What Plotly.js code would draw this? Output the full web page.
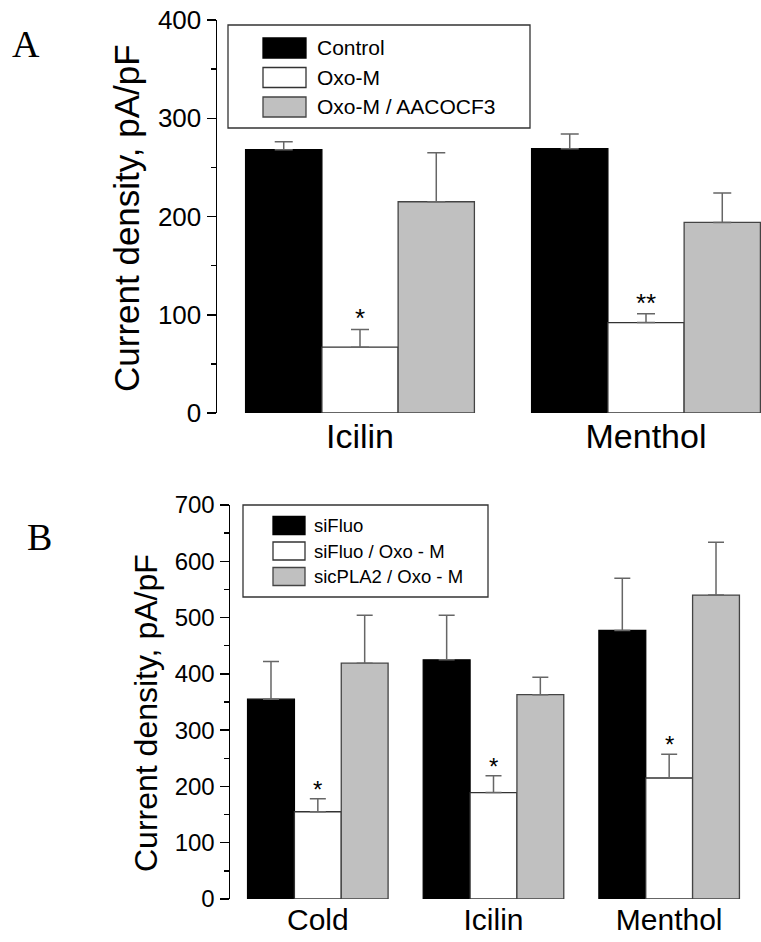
<!DOCTYPE html>
<html>
<head>
<meta charset="utf-8">
<script src="https://cdn.plot.ly/plotly-3.0.1.min.js"></script>
<style>html,body{margin:0;padding:0;background:#fff}#chart{width:761px;height:942px}</style>
</head>
<body>
<div id="chart"></div>
<script>
// ---------- Panel A data ----------
const categoriesA = ["Icilin", "Menthol"];
const seriesNamesA = ["Control", "Oxo-M", "Oxo-M / AACOCF3"];
const controlA = [268, 269];
const controlErrA = [8, 15];
const oxoA = [67, 92];
const oxoErrA = [18, 9];
const aacocf3A = [215, 194];
const aacocf3ErrA = [50, 30];
const sigA = ["*", "**"];
const yTicksA = [0, 100, 200, 300, 400];

// ---------- Panel B data ----------
const categoriesB = ["Cold", "Icilin", "Menthol"];
const seriesNamesB = ["siFluo", "siFluo / Oxo - M", "sicPLA2 / Oxo - M"];
const siFluoB = [355, 425, 477];
const siFluoErrB = [67, 79, 93];
const siFluoOxoB = [155, 189, 215];
const siFluoOxoErrB = [23, 30, 42];
const sicPLA2OxoB = [419, 363, 540];
const sicPLA2OxoErrB = [85, 31, 94];
const sigB = ["*", "*", "*"];
const yTicksB = [0, 100, 200, 300, 400, 500, 600, 700];

const yTitle = "Current density, pA/pF";

// ---------- styling ----------
const W = 761, H = 942;
const px = x => x / W;
const py = y => 1 - y / H;
const FONT = "Liberation Sans, Arial, Helvetica, sans-serif";
const fills = ["#000000", "#ffffff", "#c0c0c0"];
const outlines = ["#000000", "#333333", "#444444"];

function barTrace(name, cats, vals, errs, i, xa, ya, capw) {
  return {
    type: "bar", name: name, x: cats, y: vals, xaxis: xa, yaxis: ya,
    marker: {color: fills[i], line: {color: outlines[i], width: 1.3}},
    error_y: {type: "data", symmetric: false, array: errs, arrayminus: errs.map(() => 0),
              color: "#666666", thickness: 1.5, width: capw},
    showlegend: false, hoverinfo: "skip"
  };
}

const data = [
  barTrace(seriesNamesA[0], categoriesA, controlA, controlErrA, 0, "x", "y", 9),
  barTrace(seriesNamesA[1], categoriesA, oxoA, oxoErrA, 1, "x", "y", 9),
  barTrace(seriesNamesA[2], categoriesA, aacocf3A, aacocf3ErrA, 2, "x", "y", 9),
  barTrace(seriesNamesB[0], categoriesB, siFluoB, siFluoErrB, 0, "x2", "y2", 8),
  barTrace(seriesNamesB[1], categoriesB, siFluoOxoB, siFluoOxoErrB, 1, "x2", "y2", 8),
  barTrace(seriesNamesB[2], categoriesB, sicPLA2OxoB, sicPLA2OxoErrB, 2, "x2", "y2", 8)
];

function yAxis(domain, range, ticks, tickSize, anchor) {
  return {
    domain: domain, range: range, anchor: anchor,
    tickmode: "array", tickvals: ticks, ticktext: ticks.map(String),
    ticks: "outside", ticklen: 9, tickwidth: 1.5, tickcolor: "#000",
    showline: true, linewidth: 1.5, linecolor: "#000",
    showgrid: false, zeroline: false, fixedrange: true,
    tickfont: {family: FONT, size: tickSize, color: "#000"},
    minor: {dtick: 50, tick0: 0, ticks: "outside", ticklen: 5, tickwidth: 1.5, tickcolor: "#000", showgrid: false}
  };
}
function xAxis(domain, range, labelSize, anchor) {
  return {
    domain: domain, range: range, type: "category", anchor: anchor,
    showline: false, ticks: "", showgrid: false, zeroline: false, fixedrange: true,
    tickfont: {family: FONT, size: labelSize, color: "#000"}
  };
}

// legend drawn as box + swatches + labels
const shapes = [];
const annotations = [];
function legend(box, sw, rows, swH, textX, names, fontSize) {
  shapes.push({type: "rect", xref: "paper", yref: "paper",
    x0: px(box[0]), x1: px(box[1]), y0: py(box[3]), y1: py(box[2]),
    line: {color: "#333", width: 1.3}, fillcolor: "#fff", layer: "above"});
  names.forEach((n, i) => {
    shapes.push({type: "rect", xref: "paper", yref: "paper",
      x0: px(sw[0]), x1: px(sw[1]), y0: py(rows[i] + swH / 2), y1: py(rows[i] - swH / 2),
      line: {color: outlines[i], width: 1.3}, fillcolor: fills[i], layer: "above"});
    annotations.push({xref: "paper", yref: "paper", x: px(textX), y: py(rows[i]),
      xanchor: "left", yanchor: "middle", showarrow: false, text: n,
      font: {family: FONT, size: fontSize, color: "#000"}});
  });
}
legend([228, 530, 25, 128], [263, 306], [48, 77.5, 107], 20, 315, seriesNamesA, 21);
legend([243, 488, 505, 597], [273, 305], [525.5, 551, 576.5], 18, 312, seriesNamesB, 18.5);

// y-axis titles
annotations.push({xref: "paper", yref: "paper", x: px(127), y: py(218), text: yTitle, textangle: -90,
  showarrow: false, xanchor: "center", yanchor: "middle", font: {family: FONT, size: 35, color: "#000"}});
annotations.push({xref: "paper", yref: "paper", x: px(146), y: py(713), text: yTitle, textangle: -90,
  showarrow: false, xanchor: "center", yanchor: "middle", font: {family: FONT, size: 32, color: "#000"}});

// significance stars
categoriesA.forEach((c, i) => annotations.push({xref: "x", yref: "y", x: c, y: oxoA[i] + oxoErrA[i],
  text: sigA[i], showarrow: false, yanchor: "bottom", yshift: -6, font: {family: FONT, size: 26, color: "#000"}}));
categoriesB.forEach((c, i) => annotations.push({xref: "x2", yref: "y2", x: c, y: siFluoOxoB[i] + siFluoOxoErrB[i],
  text: sigB[i], showarrow: false, yanchor: "bottom", yshift: -6, font: {family: FONT, size: 24, color: "#000"}}));

// panel letters
annotations.push({xref: "paper", yref: "paper", x: px(26), y: py(44), text: "A", showarrow: false,
  xanchor: "center", yanchor: "middle", font: {family: "Liberation Serif, Times New Roman, serif", size: 38, color: "#000"}});
annotations.push({xref: "paper", yref: "paper", x: px(39), y: py(537), text: "B", showarrow: false,
  xanchor: "center", yanchor: "middle", font: {family: "Liberation Serif, Times New Roman, serif", size: 38, color: "#000"}});

const layout = {
  width: W, height: H,
  margin: {l: 0, r: 0, t: 0, b: 0},
  paper_bgcolor: "#fff", plot_bgcolor: "rgba(0,0,0,0)",
  barmode: "group", bargap: 0.2, bargroupgap: 0,
  showlegend: false,
  font: {family: FONT, color: "#000"},
  xaxis: xAxis([px(217), 1], [-0.5, -0.5 + (761 - 217) / 286], 34, "y"),
  yaxis: yAxis([py(413), py(20)], [0, 400], yTicksA, 26, "x"),
  xaxis2: xAxis([px(230), px(757)], [-0.5, 2.5], 30, "y2"),
  yaxis2: yAxis([py(899), py(505)], [0, 700], yTicksB, 24, "x2"),
  shapes: shapes,
  annotations: annotations
};

Plotly.newPlot("chart", data, layout, {displayModeBar: false, staticPlot: true});
</script>
</body>
</html>
